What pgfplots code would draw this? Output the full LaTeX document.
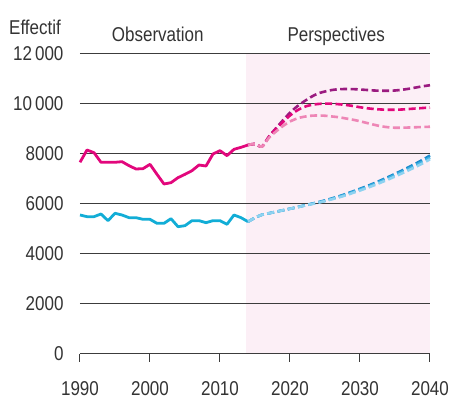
\documentclass[border=0pt]{standalone}
\usepackage{pgfplots}
\pgfplotsset{compat=1.18}
\usepackage{fontspec}
\setmainfont[FakeStretch=0.85]{Liberation Sans}
\definecolor{gridc}{HTML}{3C3C3C}
\definecolor{textc}{HTML}{333333}
\definecolor{bgpink}{HTML}{FCEFF6}
\definecolor{obsmag}{HTML}{E2077C}
\definecolor{prpl}{HTML}{9B1B80}
\definecolor{midmag}{HTML}{E2077C}
\definecolor{ltpink}{HTML}{EE86B6}
\definecolor{obsblue}{HTML}{12ADD6}
\definecolor{bdark}{HTML}{1A8ACB}
\definecolor{bmid}{HTML}{3DB1E3}
\definecolor{blight}{HTML}{8ED2F0}
\begin{document}
\begin{tikzpicture}
\begin{axis}[
 set layers,
 at={(0,0)}, anchor=south west,
 scale only axis, width=350pt, height=300pt,
 xmin=1990, xmax=2040, ymin=0, ymax=12000,
 scaled y ticks=false, scaled x ticks=false,
 xtick={1990,2000,...,2040},
 xticklabels={1990,2000,2010,2020,2030,2040},
 ytick={0,2000,...,12000},
 yticklabels={0,2000,4000,6000,8000,10\kern3pt000,12\kern3pt000},
 ymajorgrids, grid style={gridc, line width=1pt},
 axis x line*=bottom, axis y line*=left,
 y axis line style={draw=none},
 x axis line style={gridc, line width=1pt, -},
 ytick style={draw=none},
 xtick style={gridc, line width=1pt},
 tick align=outside, major tick length=8pt,
 ticklabel style={font=\fontsize{20}{24}\selectfont, text=textc},
 yticklabel style={xshift=-5pt},
 xticklabel style={yshift=-16pt},
 clip=false,
]
\begin{pgfonlayer}{axis background}
\fill[bgpink] (axis cs:2013.7,0) rectangle (axis cs:2040,12000);
\end{pgfonlayer}

% observed
\addplot[obsmag, line width=2.8pt, line join=round] coordinates {
(1990,7668) (1991,8160) (1992,8053) (1993,7668) (1994,7668) (1995,7668) (1996,7693)
(1997,7533) (1998,7400) (1999,7413) (2000,7587) (2001,7187) (2002,6800) (2003,6853)
(2004,7053) (2005,7187) (2006,7333) (2007,7560) (2008,7520) (2009,8000) (2010,8133)
(2011,7933) (2012,8187) (2013,8267) (2014,8360)};
\addplot[obsblue, line width=2.8pt, line join=round] coordinates {
(1990,5560) (1991,5493) (1992,5493) (1993,5600) (1994,5333) (1995,5627) (1996,5560)
(1997,5453) (1998,5453) (1999,5387) (2000,5387) (2001,5227) (2002,5227) (2003,5413)
(2004,5093) (2005,5133) (2006,5333) (2007,5333) (2008,5253) (2009,5333) (2010,5333)
(2011,5187) (2012,5560) (2013,5453) (2014,5293)};

% projections pink
\addplot[prpl, line width=2.6pt, dash pattern=on 7pt off 3.5pt, smooth] coordinates {
(2014,8360) (2015,8400) (2016,8300) (2017,8700) (2018,9030) (2019,9350) (2020,9650)
(2021,9900) (2022,10100) (2023,10280) (2024,10420) (2025,10500) (2026,10560) (2027,10590)
(2028,10600) (2029,10595) (2030,10580) (2031,10560) (2032,10540) (2033,10530) (2034,10530)
(2035,10540) (2036,10570) (2037,10610) (2038,10660) (2039,10710) (2040,10750)};
\addplot[midmag, line width=2.6pt, dash pattern=on 7pt off 3.5pt, smooth] coordinates {
(2014,8360) (2015,8400) (2016,8300) (2017,8690) (2018,9000) (2019,9280) (2020,9540)
(2021,9740) (2022,9880) (2023,9960) (2024,10000) (2025,10015) (2026,10010) (2027,9990)
(2028,9960) (2029,9920) (2030,9870) (2031,9830) (2032,9800) (2033,9780) (2034,9770)
(2035,9770) (2036,9780) (2037,9800) (2038,9820) (2039,9840) (2040,9860)};
\addplot[ltpink, line width=2.6pt, dash pattern=on 7pt off 3.5pt, smooth] coordinates {
(2014,8360) (2015,8400) (2016,8300) (2017,8650) (2018,8900) (2019,9120) (2020,9300)
(2021,9420) (2022,9490) (2023,9530) (2024,9540) (2025,9530) (2026,9500) (2027,9470)
(2028,9420) (2029,9370) (2030,9310) (2031,9240) (2032,9170) (2033,9110) (2034,9070)
(2035,9050) (2036,9050) (2037,9060) (2038,9070) (2039,9080) (2040,9090)};

% projections blue
\addplot[bdark, line width=2.6pt, dash pattern=on 7pt off 3.5pt, smooth] coordinates {
(2014,5290) (2015,5450) (2016,5570) (2017,5630) (2018,5690) (2019,5750) (2020,5810)
(2021,5870) (2022,5940) (2023,6005) (2024,6070) (2025,6145) (2026,6225) (2027,6310)
(2028,6405) (2029,6505) (2030,6610) (2031,6715) (2032,6830) (2033,6950) (2034,7075)
(2035,7205) (2036,7340) (2037,7480) (2038,7625) (2039,7775) (2040,7940)};
\addplot[bmid, line width=2.6pt, dash pattern=on 7pt off 3.5pt, smooth] coordinates {
(2014,5290) (2015,5450) (2016,5570) (2017,5630) (2018,5690) (2019,5750) (2020,5810)
(2021,5870) (2022,5935) (2023,6000) (2024,6060) (2025,6130) (2026,6210) (2027,6290)
(2028,6380) (2029,6480) (2030,6580) (2031,6680) (2032,6790) (2033,6910) (2034,7030)
(2035,7160) (2036,7290) (2037,7420) (2038,7560) (2039,7700) (2040,7860)};
\addplot[blight, line width=2.6pt, dash pattern=on 7pt off 3.5pt, smooth] coordinates {
(2014,5290) (2015,5450) (2016,5570) (2017,5630) (2018,5690) (2019,5750) (2020,5810)
(2021,5865) (2022,5930) (2023,5990) (2024,6050) (2025,6115) (2026,6190) (2027,6265)
(2028,6350) (2029,6445) (2030,6540) (2031,6640) (2032,6745) (2033,6860) (2034,6975)
(2035,7100) (2036,7225) (2037,7355) (2038,7490) (2039,7630) (2040,7790)};

\node[anchor=base west, inner sep=0pt, text=textc, font=\fontsize{20}{24}\selectfont]
  at (rel axis cs:0,1) [xshift=-71pt, yshift=19pt] {Effectif};
\node[anchor=base, inner sep=0pt, text=textc, font=\fontsize{20}{24}\selectfont]
  at (axis cs:2001.1,12000) [yshift=12.3pt] {Observation};
\node[anchor=base, inner sep=0pt, text=textc, font=\fontsize{20}{24}\selectfont]
  at (axis cs:2026.6,12000) [yshift=12.3pt] {Perspectives};
\end{axis}
\pgfresetboundingbox
\useasboundingbox (-80pt,-47pt) rectangle (371pt,354pt);
\end{tikzpicture}
\end{document}
